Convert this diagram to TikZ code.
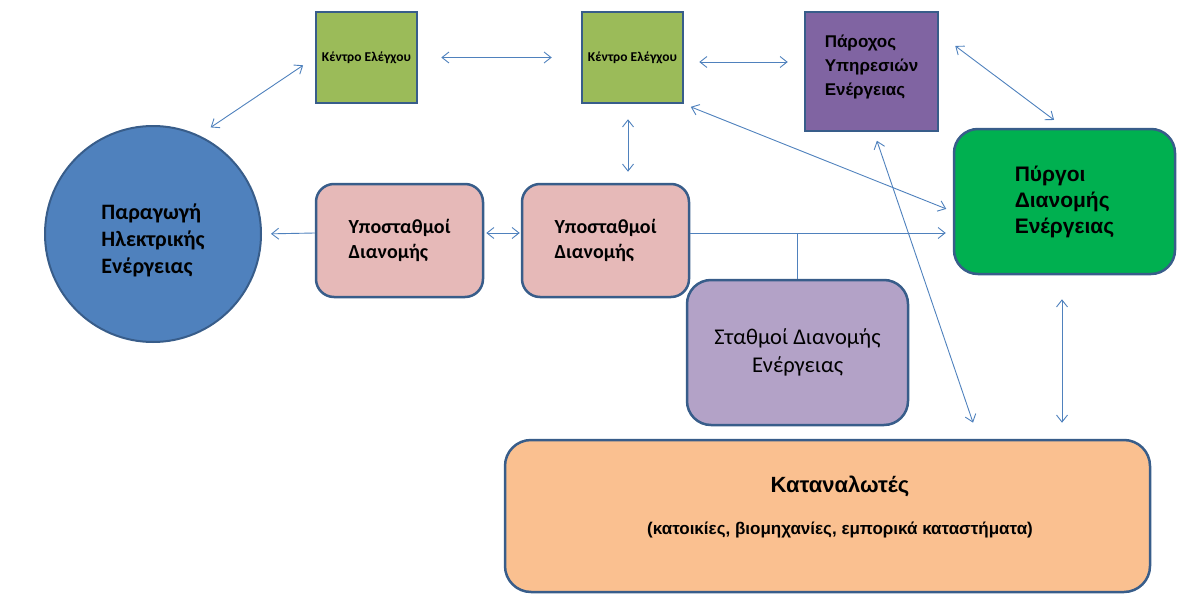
\documentclass[tikz,border=0pt]{standalone}
\usepackage{fontspec}
\setmainfont{Carlito}
\newfontfamily\arialfont{Liberation Sans}
\usetikzlibrary{arrows.meta}
\definecolor{edgeblue}{HTML}{385D8A}
\definecolor{arrowblue}{HTML}{4F81BD}
\definecolor{genblue}{HTML}{4F81BD}
\definecolor{ctrlgreen}{HTML}{9BBB59}
\definecolor{provpurple}{HTML}{8064A2}
\definecolor{towergreen}{HTML}{00B050}
\definecolor{subspink}{HTML}{E6B9B8}
\definecolor{stationlilac}{HTML}{B3A2C7}
\definecolor{consorange}{HTML}{FAC090}

\begin{document}
\begin{tikzpicture}[x=1pt, y=-1pt,
  box/.style={draw=edgeblue, line width=2.5pt, inner sep=0pt, align=center, text=black},
  ctrl/.style={box, fill=ctrlgreen, minimum width=101pt, minimum height=91pt, font=\bfseries\fontsize{13.5}{16}\selectfont},
  prov/.style={box, fill=provpurple, minimum width=133pt, minimum height=119pt},
  provtext/.style={align=left, inner sep=0pt, yshift=4.5pt, font=\arialfont\bfseries\fontsize{17}{24}\selectfont},
  gen/.style={box, circle, line width=2pt, fill=genblue, minimum size=216pt},
  gentext/.style={align=left, inner sep=0pt, yshift=-6pt, font=\bfseries\fontsize{22}{27}\selectfont},
  subs/.style={box, rounded corners=18pt, fill=subspink, minimum width=167pt, minimum height=113pt, align=left, font=\bfseries\fontsize{20}{25}\selectfont},
  tower/.style={box, rounded corners=24pt, fill=towergreen, minimum width=221pt, minimum height=145pt, align=left, font=\arialfont\bfseries\fontsize{21}{26}\selectfont},
  station/.style={box, rounded corners=24pt, fill=stationlilac, minimum width=221pt, minimum height=145pt, font=\fontsize{22.5}{28}\selectfont},
  cons/.style={box, rounded corners=26pt, fill=consorange, minimum width=645pt, minimum height=152pt},
  constext/.style={align=center, inner sep=0pt, xshift=12.5pt, yshift=9pt, font=\arialfont\bfseries},
  line/.style={draw=arrowblue, line width=0.9pt},
  link/.style={line, {Straight Barb[length=7pt,width=11pt]}-{Straight Barb[length=7pt,width=11pt]}},
  feed/.style={line, -{Straight Barb[length=7pt,width=11pt]}}]
  \useasboundingbox (0,0) rectangle (1194,594);
  \node [ctrl] (ctrlA) at (366.5,57.5) {Κέντρο Ελέγχου};
  \node [ctrl] (ctrlB) at (632.5,57.5) {Κέντρο Ελέγχου};
  \node [prov, label={[provtext]center:Πάροχος\\Υπηρεσιών\\Ενέργειας}] (prov) at (871.5,71.5) {};
  \node [gen, label={[gentext]center:Παραγωγή\\Ηλεκτρικής\\Ενέργειας}] (gen) at (153,234) {};
  \node [subs] (subsA) at (399.5,240.5) {Υποσταθμοί\\Διανομής};
  \node [subs] (subsB) at (605.5,240.5) {Υποσταθμοί\\Διανομής};
  \node [tower] (tower) at (1064.5,201.5) {Πύργοι\\Διανομής\\Ενέργειας};
  \node [station] (station) at (797.5,352.5) {Σταθμοί Διανομής\\Ενέργειας};
  \node [cons, label={[constext]center:{\fontsize{22}{26}\selectfont Καταναλωτές}\\[24pt]{\fontsize{17}{20}\selectfont (κατοικίες, βιομηχανίες, εμπορικά καταστήματα)}}] (cons) at (827.5,516) {};
  \coordinate (bus) at ([yshift=7.5pt]subsB.east);
  \draw [link, shorten <=14pt, shorten >=14pt] (gen.65) -- (ctrlA.west);
  \draw [link, shorten <=23pt, shorten >=29pt] (ctrlA.east) -- (ctrlB.west);
  \draw [link, shorten <=15pt, shorten >=16pt] ([yshift=-4.5pt]ctrlB.east) -- ([yshift=-4.5pt]ctrlB.east -| prov.west);
  \draw [link, shorten <=20pt, shorten >=13pt] (prov.29) -- (tower.north);
  \draw [link, shorten <=7pt, shorten >=7pt] (ctrlB.south east) -- ([yshift=-10pt]tower.west);
  \draw [link, shorten <=15pt, shorten >=11pt] ([xshift=-4.5pt]ctrlB.south) -- ([xshift=-4.5pt]ctrlB.south |- subsB.north);
  \draw [feed, shorten >=9pt] ([yshift=7.5pt]subsA.west) -- (gen.east);
  \draw [link, shorten <=2pt, shorten >=1pt] ([yshift=7.5pt]subsA.east) -- ([yshift=7.5pt]subsB.west);
  \draw [feed, shorten >=7pt] (bus) -- (bus -| tower.west);
  \draw [line] (station.north) -- (station.north |- bus);
  \draw [link, shorten <=9pt, shorten >=17pt] ([xshift=2.5pt]prov.south) -- ([xshift=151pt]cons.north);
  \draw [link, shorten <=24pt, shorten >=16pt] ([xshift=-2.5pt]tower.south) -- ([xshift=-2.5pt]tower.south |- cons.north);
\end{tikzpicture}
\end{document}
